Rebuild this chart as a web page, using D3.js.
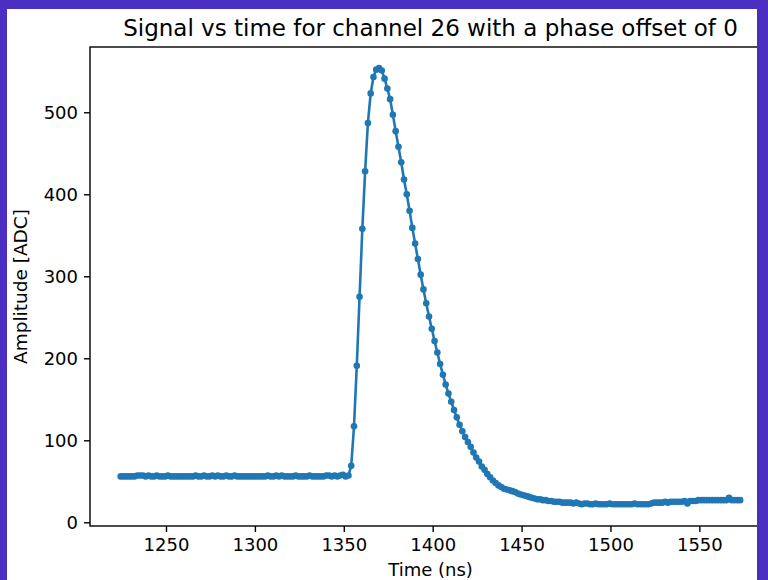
<!DOCTYPE html>
<html>
<head>
  <meta charset="utf-8">
  <script src="https://cdn.jsdelivr.net/npm/d3@7"></script>
  <title>Signal vs time</title>
  <style>
    body { margin: 0; background: #4b2fc2; }
    svg { display: block; }
    text { font-family: "DejaVu Sans", sans-serif; fill: #000; }
  </style>
</head>
<body>
<svg id="chart" width="768" height="580"></svg>
<script>
  // sampling grid of the digitiser (ns)
  var tStart = 1224.5;
  var tStep = 1.5625;

  // amplitude per sample [ADC]
  var baseline = [
    56,56,56,56,56,56,57,57,57,56,
    57,56,56,57,56,56,56,57,56,56,
    56,56,56,56,56,56,56,57,56,56,
    57,56,56,57,56,57,56,56,57,56,
    56,57,56,56,56,56,56,56,56,56,
    56,56,56,57,56,56,57,56,57,56,
    56,56,56,57,56,56,56,56,57,56,
    56,56,56,56,57,57,56,57,56,57,
    58,56,57
  ];
  var pulse = [
    69,117,191,275,358,428,487,523,543,552,
    554,551,541,529,516,497,477,458,439,418,
    400,380,359,340,321,302,284,267,251,236,
    221,207,193,180,168,157,147,137,128,119
  ];
  var decay = [
    111,104,98,92,85,79,74,68,64,59,
    55,51,48,45,43,41,40,39,38,37,
    35,34,33,32,31,30,29,28,28,27,
    27,26,26,25,25,25,24,24
  ];
  var tail = [
    24,24,23,24,23,22,23,
    23,22,22,23,22,22,22,22,23,22,22,22,22,22,22,22,22,23,22,22,22,22,22,23,
    24,24,24,24,25,24,25,25,25,25,25,26,
    23,26,26,26,27,27,27,27,27,27,27,27,27,27,27,30,27,27,27,27
  ];

  var amplitudes = baseline.concat(pulse, decay, tail);
  var samples = amplitudes.map(function(a, i) { return { t: tStart + i * tStep, a: a }; });

  var xTicks = [1250, 1300, 1350, 1400, 1450, 1500, 1550];
  var yTicks = [0, 100, 200, 300, 400, 500];

  var plot = { left: 90, right: 771, top: 47, bottom: 526 };
  var blue = "#1f77b4";

  var svg = d3.select("#chart");

  // white figure panel on the purple page
  svg.append("rect").attr("x", 0).attr("y", 0).attr("width", 768).attr("height", 580).attr("fill", "#4b2fc2");
  svg.append("rect").attr("x", 7).attr("y", 9).attr("width", 750).attr("height", 571).attr("fill", "#fff");

  var x = d3.scaleLinear().domain([1207.25, 1590.3]).range([plot.left, plot.right]);
  var y = d3.scaleLinear().domain([-4.5, 579.6]).range([plot.bottom, plot.top]);

  var line = d3.line()
      .x(function(d) { return x(d.t); })
      .y(function(d) { return y(d.a); });

  svg.append("clipPath").attr("id", "panel")
      .append("rect").attr("x", 7).attr("y", 9).attr("width", 750).attr("height", 571);

  var fig = svg.append("g").attr("clip-path", "url(#panel)");

  fig.append("path")
      .datum(samples)
      .attr("fill", "none")
      .attr("stroke", blue)
      .attr("stroke-width", 2.6)
      .attr("stroke-linejoin", "round")
      .attr("d", line);

  fig.append("g")
      .selectAll("circle").data(samples).enter()
      .append("circle")
      .attr("cx", function(d) { return x(d.t); })
      .attr("cy", function(d) { return y(d.a); })
      .attr("r", 3.3)
      .attr("fill", blue);

  // axes
  var xAxis = fig.append("g")
      .attr("transform", "translate(0," + plot.bottom + ")")
      .call(d3.axisBottom(x).tickValues(xTicks).tickFormat(d3.format("d")).tickSize(6).tickSizeOuter(0).tickPadding(6));
  var yAxis = fig.append("g")
      .attr("transform", "translate(" + plot.left + ",0)")
      .call(d3.axisLeft(y).tickValues(yTicks).tickFormat(d3.format("d")).tickSize(6).tickSizeOuter(0).tickPadding(6));

  [xAxis, yAxis].forEach(function(g) {
    g.select(".domain").remove();
    g.attr("font-family", null).attr("font-size", null);
    g.selectAll("line").attr("stroke", "#000").attr("stroke-width", 1.4);
    g.selectAll("text").style("font-size", "18px").attr("fill", "#000");
  });

  // spines
  fig.append("rect")
      .attr("x", plot.left)
      .attr("y", plot.top)
      .attr("width", plot.right - plot.left)
      .attr("height", plot.bottom - plot.top)
      .attr("fill", "none")
      .attr("stroke", "#000")
      .attr("stroke-width", 1.4);

  // title and labels
  fig.append("text")
      .attr("x", (plot.left + plot.right) / 2)
      .attr("y", 36)
      .attr("text-anchor", "middle")
      .style("font-size", "23px")
      .text("Signal vs time for channel 26 with a phase offset of 0");

  fig.append("text")
      .attr("x", (plot.left + plot.right) / 2)
      .attr("y", 576)
      .attr("text-anchor", "middle")
      .style("font-size", "18px")
      .text("Time (ns)");

  fig.append("text")
      .attr("transform", "translate(27," + (plot.top + plot.bottom) / 2 + ") rotate(-90)")
      .attr("text-anchor", "middle")
      .style("font-size", "18.5px")
      .text("Amplitude [ADC]");
</script>
</body>
</html>
